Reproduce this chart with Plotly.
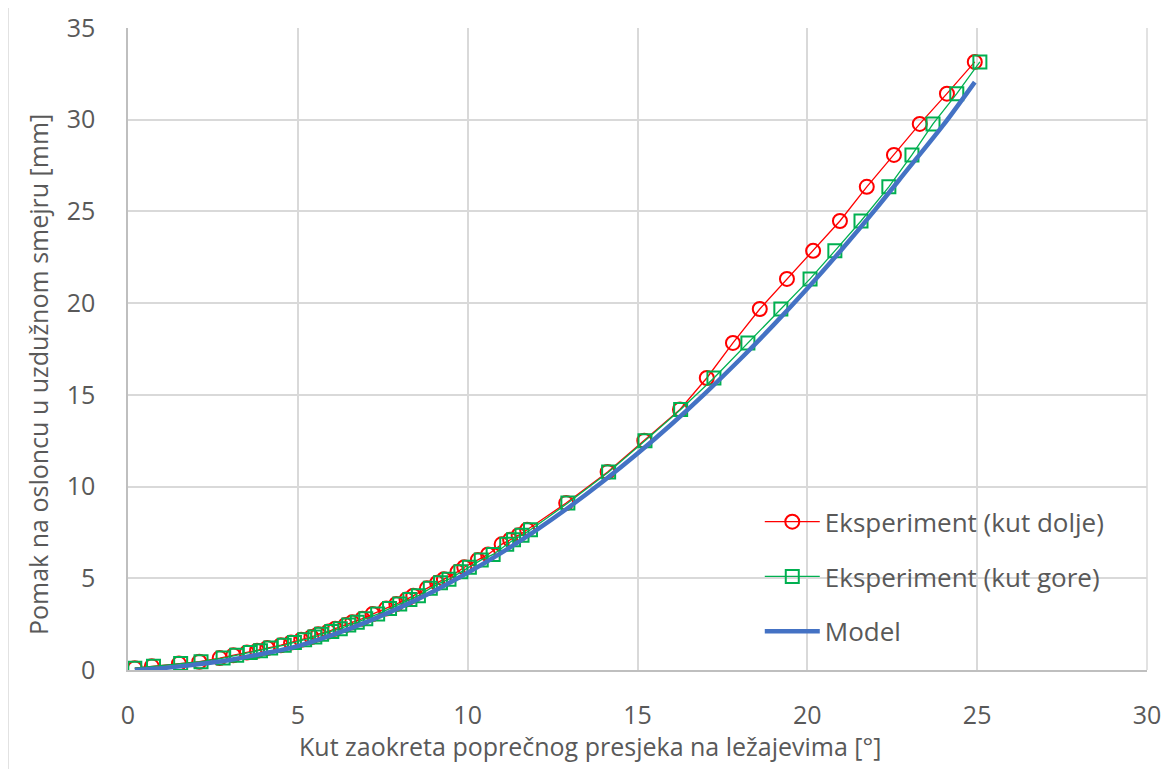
import plotly.graph_objects as go

# Eksperiment (kut dolje)
red_x = [0.2, 0.7, 1.5, 2.1, 2.7, 3.1, 3.5, 3.8, 4.1, 4.5, 4.8, 5.1, 5.4, 5.6, 5.9, 6.1, 6.4, 6.6, 6.9,
         7.2, 7.6, 7.9, 8.2, 8.4, 8.8, 9.1, 9.3, 9.7, 9.9, 10.3, 10.6, 11.0, 11.25, 11.5, 11.75,
         12.9, 14.12, 15.2, 16.25, 17.04, 17.81, 18.6, 19.4, 20.17, 20.96, 21.75, 22.55, 23.31, 24.11, 24.93]
red_y = [0.1, 0.2, 0.35, 0.45, 0.65, 0.8, 0.95, 1.05, 1.2, 1.35, 1.5, 1.65, 1.8, 1.95, 2.1, 2.25, 2.45, 2.6, 2.8,
         3.05, 3.35, 3.6, 3.85, 4.05, 4.45, 4.75, 4.95, 5.35, 5.6, 6.0, 6.3, 6.85, 7.1, 7.35, 7.65,
         9.1, 10.8, 12.5, 14.2, 15.92, 17.83, 19.68, 21.32, 22.85, 24.48, 26.34, 28.08, 29.77, 31.42, 33.15]

# Eksperiment (kut gore)
green_x = [0.2, 0.75, 1.55, 2.15, 2.8, 3.2, 3.6, 3.9, 4.2, 4.6, 4.9, 5.2, 5.5, 5.7, 6.0, 6.25, 6.5, 6.75, 7.0,
           7.35, 7.7, 8.0, 8.3, 8.55, 8.9, 9.2, 9.45, 9.8, 10.05, 10.4, 10.75, 11.15, 11.35, 11.6, 11.85,
           12.95, 14.15, 15.22, 16.27, 17.25, 18.25, 19.22, 20.08, 20.81, 21.58, 22.4, 23.08, 23.7, 24.4, 25.08]
green_y = [0.1, 0.2, 0.35, 0.45, 0.65, 0.8, 0.95, 1.05, 1.2, 1.35, 1.5, 1.65, 1.8, 1.95, 2.1, 2.25, 2.45, 2.6, 2.8,
           3.05, 3.35, 3.6, 3.85, 4.05, 4.45, 4.75, 4.95, 5.35, 5.6, 6.0, 6.3, 6.85, 7.1, 7.35, 7.65,
           9.1, 10.8, 12.5, 14.2, 15.92, 17.83, 19.68, 21.32, 22.85, 24.48, 26.34, 28.08, 29.77, 31.42, 33.15]

# Model
model_x = [0.2, 1, 2, 3, 4, 5, 6, 7, 8, 9, 10, 11, 12, 13, 14, 15, 16, 17, 18, 19, 20, 21, 22, 23, 24, 24.93]
model_y = [0.0, 0.1, 0.3, 0.55, 0.9, 1.3, 1.9, 2.6, 3.4, 4.3, 5.3, 6.4, 7.6, 8.9, 10.3, 11.8, 13.4, 15.1,
           16.9, 18.8, 20.8, 22.9, 25.1, 27.4, 29.7, 32.05]

x_ticks = [0, 5, 10, 15, 20, 25, 30]
y_ticks = [0, 5, 10, 15, 20, 25, 30, 35]

FONT = "Open Sans"
FS = 25
TXT = "#595959"

fig = go.Figure()
fig.add_trace(go.Scatter(
    x=red_x, y=red_y, mode="lines+markers", name="Eksperiment (kut dolje)", legendgroup="a",
    line=dict(color="#FF0000", width=1.3),
    marker=dict(symbol="circle-open", size=14, color="#FF0000", line=dict(width=2))))
fig.add_trace(go.Scatter(
    x=green_x, y=green_y, mode="lines+markers", name="Eksperiment (kut gore)", legendgroup="b",
    line=dict(color="#00B050", width=1.3),
    marker=dict(symbol="square-open", size=13, color="#00B050", line=dict(width=2))))
fig.add_trace(go.Scatter(
    x=model_x, y=model_y, mode="lines", name="Model", legendgroup="c",
    line=dict(color="#4472C4", width=4.5, shape="spline")))

axis_common = dict(
    showgrid=True, gridcolor="#D9D9D9", gridwidth=1.5,
    showline=True, linecolor="#BFBFBF", linewidth=1.5,
    zeroline=False, ticks="outside", ticklen=0, automargin=False,
    tickfont=dict(family=FONT, size=FS, color=TXT),
)
fig.update_xaxes(range=[0, 30], tickvals=x_ticks, ticklabelstandoff=22, **axis_common)
fig.update_yaxes(range=[0, 35], tickvals=y_ticks, ticklabelstandoff=26, **axis_common)

# page body has an 8px margin: figure origin sits at (8, 8) on screen
W, H = 1168, 761
fig.update_layout(
    template="none",
    width=W, height=H,
    margin=dict(l=120, r=29, t=20, b=99, autoexpand=False),
    paper_bgcolor="white", plot_bgcolor="white",
    font=dict(family=FONT, size=FS, color=TXT),
    showlegend=True,
    legend=dict(
        x=0.62, y=0.2675, xanchor="left", yanchor="top",
        bgcolor="rgba(0,0,0,0)", font=dict(family=FONT, size=26, color=TXT),
        traceorder="grouped", tracegroupgap=18, itemwidth=55,
    ),
    shapes=[
        dict(type="line", xref="paper", yref="paper", x0=1, x1=1, y0=0, y1=1,
             line=dict(color="#D9D9D9", width=1.5)),
        dict(type="rect", xref="paper", yref="paper",
             x0=(8 - 128) / 1019, x1=(1175 - 128) / 1019,
             y0=(670 - 775) / 642, y1=(670 - 7) / 642,
             line=dict(color="#D9D9D9", width=1.5), fillcolor="rgba(0,0,0,0)", layer="below"),
    ],
    annotations=[
        dict(text="Kut zaokreta poprečnog presjeka na ležajevima [°]", xref="paper", yref="paper",
             x=(590 - 128) / 1019, y=(670 - 746) / 642, xanchor="center", yanchor="middle",
             showarrow=False, font=dict(family=FONT, size=FS, color=TXT)),
        dict(text="Pomak na osloncu u uzdužnom smejru [mm]", xref="paper", yref="paper",
             x=(38 - 128) / 1019, y=(670 - 375) / 642, xanchor="center", yanchor="middle",
             textangle=-90, showarrow=False, font=dict(family=FONT, size=FS, color=TXT)),
    ],
)

fig.write_html("out.html")
